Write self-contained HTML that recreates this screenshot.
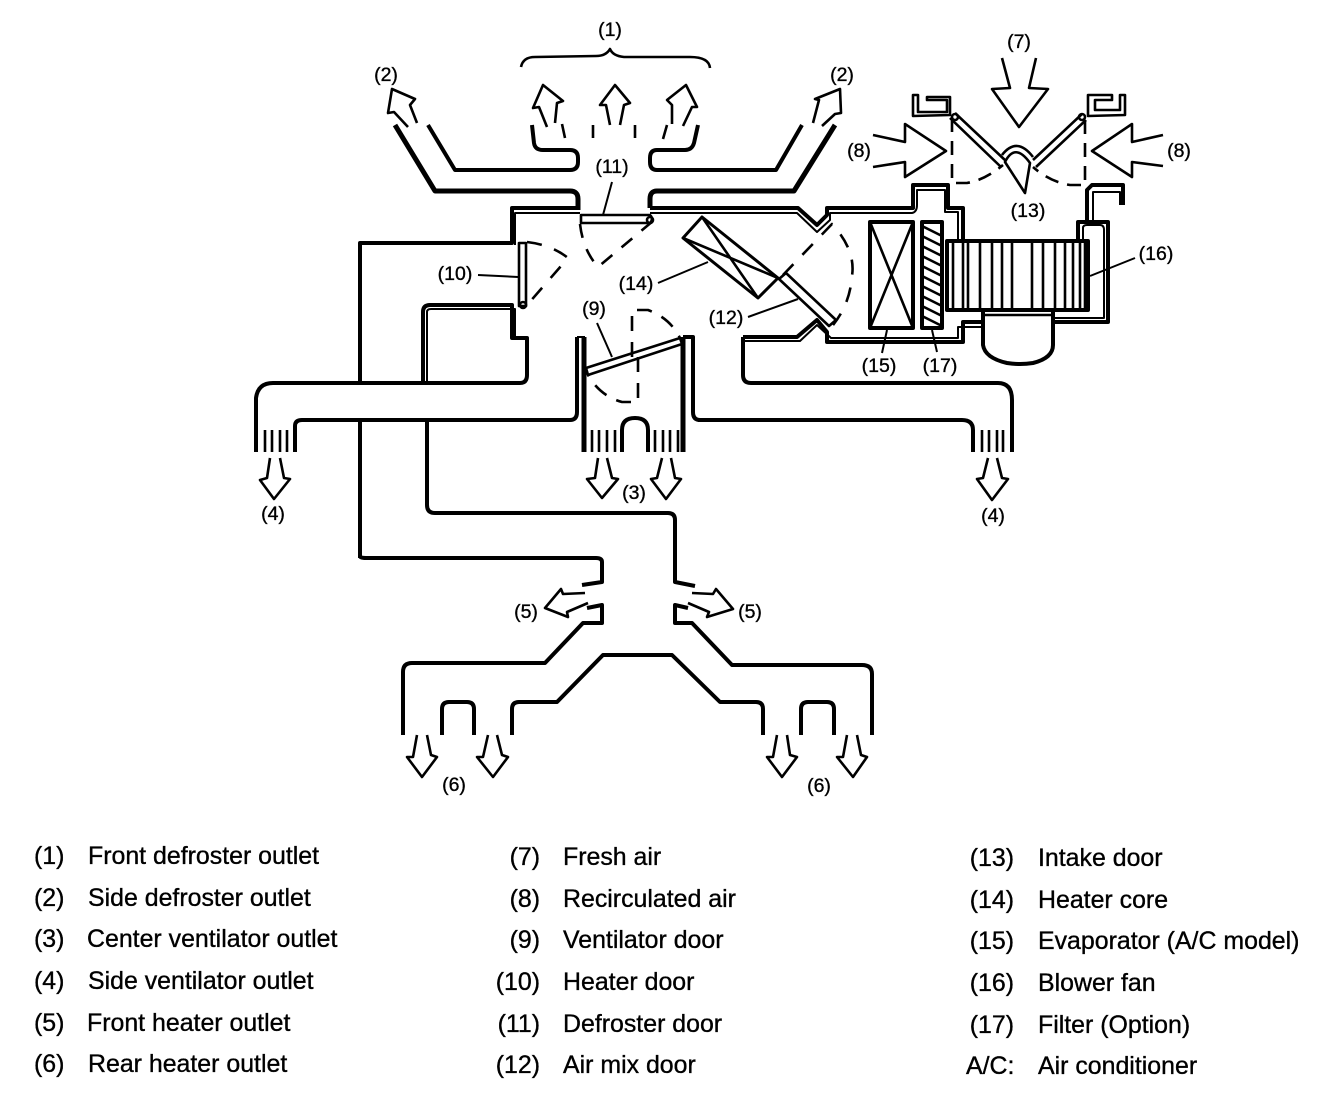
<!DOCTYPE html>
<html><head><meta charset="utf-8"><style>
html,body{margin:0;padding:0;background:#fff}
svg{display:block}
path,line,polyline,rect,circle{fill:none;stroke:#000;stroke-linejoin:round}
.t{stroke-width:4}.h{stroke-width:5}.m{stroke-width:2.6}.n{stroke-width:2}
.d{stroke-width:2.6;stroke-dasharray:15 13}
text{font-family:"Liberation Sans",Arial,sans-serif;fill:#000;stroke:#000;stroke-width:.35px}
.l{font-size:19.5px;text-anchor:middle}
.g{font-size:24.9px}
.e{text-anchor:end}
</style></head><body>
<svg width="1328" height="1114" viewBox="0 0 1328 1114" xmlns="http://www.w3.org/2000/svg">
<rect x="0" y="0" width="1328" height="1114" style="fill:#fff;stroke:none"/>

<!-- brace -->
<path class="m" d="M521,67Q523,57 535,57L596,56Q606,56 610,49Q613,56 624,57L690,57Q709,57 710,68"/>

<!-- defrost ducts -->
<path class="h" d="M395,125L435,191H570Q578,191 578,199V210"/>
<path class="t" d="M428,125L455,170H570Q578,170 578,162V158Q578,150 570,150H543Q535,150 534,143L532,125"/>
<path class="t" d="M698,125L694,143Q692,150 685,150H657Q650,150 650,158V162Q650,170 657,170H776L802,125"/>
<path class="h" d="M835,125L794,191H657Q650,191 650,199V208"/>
<!-- top wall -->
<path class="t" d="M360,383V243H512V208H577"/>
<path class="t" d="M360,420V558"/>
<path class="n" d="M515,245V213H580"/>
<path class="t" d="M650,208H798L817,225L827,215V208H913V185H948V208H963V241"/>
<path class="n" d="M650,213H797L817,232L830,220V213H912Q917,212 917,205V190H945V212H958V241"/>

<!-- housing bottom -->
<path class="t" d="M743,337H797L817,320L827,332V342H963V322H983"/>
<path class="n" d="M743,341H800L817,325L831,338H958V327H983"/>
<path class="t" d="M743,337V375Q743,383 751,383H998Q1012,383 1012,400V452"/>
<path class="t" d="M698,420H962Q973,420 973,430V452"/>
<path class="h" d="M683,337V452"/>
<path class="t" d="M683,337H693V412Q693,420 700,420"/>

<!-- right housing -->
<path class="t" d="M1078,241V222H1108V322H1053"/>
<path class="n" d="M1083,241V228Q1083,225 1087,225H1100Q1104,225 1104,230V318H1053"/>
<path class="t" d="M1087,222V190L1092,185H1123V205"/>
<path class="n" d="M1093,222V192H1120V205"/>

<!-- blower -->
<rect class="t" x="947" y="241" width="141" height="69"/>
<path class="m" d="M953,241V310M963,241V310M968,241V310M980,241V310M992,241V310M1002,241V310M1012,241V310M1032,241V310M1043,241V310M1055,241V310M1065,241V310M1073,241V310M1080,241V310M1085,241V310"/>
<path class="t" d="M983,310V345Q985,358 1007,363Q1020,365 1033,363Q1053,358 1053,345V310"/>
<path class="m" d="M983,315H1053"/>

<!-- evaporator & filter -->
<rect class="t" x="870" y="222" width="43" height="106"/>
<path class="m" d="M870,222L913,328M913,222L870,328"/>
<rect class="t" x="922" y="222" width="20" height="106"/>
<path class="m" d="M922,226L942,236M922,236L942,246M922,246L942,256M922,256L942,266M922,266L942,276M922,276L942,286M922,286L942,296M922,296L942,306M922,306L942,316M922,316L942,326"/>

<!-- heater core -->
<path class="t" d="M702,217L683,238L758,298L778,278Z" style="stroke-width:3"/>
<path class="m" d="M702,217L758,298M683,238L778,278"/>

<!-- air mix door -->
<path class="m" d="M779,279L829,326L836,320L786,273Z"/>
<path class="d" d="M783,275L832,224Q856,250 852,276Q850,304 833,325"/>

<!-- defroster door -->
<path class="m" d="M581,215H650Q654,219 650,223H581Z"/>
<circle class="m" cx="650" cy="220" r="3"/>
<path class="d" d="M580,224Q583,250 598,267L653,221" style="stroke-dasharray:14 12"/>
<line class="n" x1="612" y1="182" x2="603" y2="215"/>

<!-- heater door 10 -->
<path class="m" d="M519,243H526V306H519Z"/>
<circle class="m" cx="523" cy="305" r="3"/>
<path class="d" d="M527,242Q552,245 568,258L528,304"/>
<line class="n" x1="478" y1="275" x2="518" y2="277"/>

<!-- left box -->
<path class="t" d="M256,452V398Q258,383 273,383H520Q527,383 527,375V338H512V305H430Q423,305 423,312V383"/>
<path class="n" d="M427,383V312Q427,309 431,309H515V338"/>
<path class="t" d="M295,452V426Q295,420 302,420H570Q577,420 577,412V337"/>
<path class="h" d="M584,337V452"/>
<path class="n" d="M577,337H585"/>

<!-- vent door 9 -->
<path class="m" d="M586,368L680,338L682,344L588,375Z"/>
<path class="d" d="M632,357V310H648Q670,318 680,338" style="stroke-dasharray:15 11"/>
<path class="d" d="M638,357V402H622Q600,396 588,375" style="stroke-dasharray:15 11"/>
<line class="n" x1="597" y1="323" x2="612" y2="357"/>

<!-- center grill -->
<path class="t" d="M622,452V430Q622,418 635,418Q648,418 648,430V452"/>
<path class="m" d="M592,430V452M599,430V452M607,430V452M615,430V452M655,430V452M663,430V452M670,430V452M678,430V452"/>
<!-- side grills -->
<path class="m" d="M265,430V452M272,430V452M280,430V452M287,430V452M982,430V452M989,430V452M997,430V452M1003,430V452"/>

<!-- rear ducts -->
<path class="t" d="M360,556Q360,558 366,558H596Q602,558 602,562V582L582,585"/>
<path class="t" d="M427,420V505Q427,513 435,513H668Q675,513 675,520V582L695,586"/>
<path class="t" d="M587,608L602,605V623H583L545,663H412Q403,663 403,672V735"/>
<path class="t" d="M688,608L675,605V623H692L732,665H862Q872,665 872,674V735"/>
<path class="t" d="M512,735V709Q512,702 519,702H557L603,655H672L720,702H756Q763,702 763,709V735"/>
<path class="t" d="M442,735V709Q442,702 449,702H467Q474,702 474,709V735"/>
<path class="t" d="M801,735V709Q801,702 808,702H827Q834,702 834,709V735"/>

<!-- intake -->
<path class="m" d="M927,97H950V115L913,116V95H918V112H947V100H927Z"/>
<path class="m" d="M1088,95H1112V100H1095V110H1120V95H1125V115L1088,116Z"/>
<path class="m" d="M955,113L1006,161M950,118L1001,167"/>
<circle class="m" cx="955" cy="117" r="3"/>
<path class="m" d="M1082,114L1033,160M1086,120L1036,167"/>
<circle class="m" cx="1082" cy="117" r="3"/>
<path class="m" d="M1002,155Q1017,136 1033,157"/>
<path class="m" d="M1005,162Q1015,142 1030,163L1025,193Z"/>
<path class="d" d="M952,118V183H967Q985,180 1003,165" style="stroke-dasharray:14 9"/>
<path class="d" d="M1085,120V185H1070Q1050,182 1033,167" style="stroke-dasharray:14 9"/>

<!-- air arrows -->
<g class="m">
<path class="m" d="M408,127L394,112L388,113L392,89L415,99L410,105L417,123"/>
<path class="m" d="M813,123L819,100L815,99L840,89L841,113L835,114L822,126"/>
<path class="m" d="M547,127L539,107L533,108L543,85L563,101L557,103L555,123"/>
<path class="m" d="M610,125L606,105L600,105L615,85L630,103L624,105L620,125"/>
<path class="m" d="M672,124L672,105L667,100L686,85L697,107L692,107L683,126"/>
<path class="m" d="M562,124L565,138M593,125V138M635,125V138M667,125L663,139"/>
<path class="m" d="M1002,58L1010,88L992,89L1019,127L1048,89L1029,88L1036,58"/>
<path class="m" d="M873,135L905,142V124L946,151L905,177V162L873,167"/>
<path class="m" d="M1163,135L1132,142V124L1092,151L1132,177V162L1163,166"/>
<path class="m" d="M270,458L267,478L260,480L274,499L290,479L284,478L280,458"/>
<path class="m" d="M988,458L983,478L977,479L992,500L1008,479L1002,478L997,458"/>
<path class="m" d="M598,458L595,478L587,479L602,498L618,479L612,478L607,458"/>
<path class="m" d="M662,458L657,478L651,479L666,499L681,479L675,478L671,458"/>
<path class="m" d="M585,593L563,594L561,589L545,608L568,617L567,612L588,603"/>
<path class="m" d="M692,593L713,594L716,589L733,609L707,617L709,612L688,603"/>
<path class="m" d="M417,735L413,757L407,757L422,777L437,757L431,755L427,735"/>
<path class="m" d="M488,735L483,757L477,757L493,777L508,757L502,755L497,735"/>
<path class="m" d="M777,735L773,757L767,757L782,777L797,757L790,755L787,735"/>
<path class="m" d="M847,735L843,757L837,757L853,777L867,757L861,755L857,735"/>
</g>

<!-- leaders -->
<line class="n" x1="658" y1="283" x2="708" y2="262"/>
<line class="n" x1="748" y1="317" x2="798" y2="299"/>
<line class="n" x1="1090" y1="276" x2="1135" y2="258"/>
<line class="n" x1="887" y1="330" x2="882" y2="353"/>
<line class="n" x1="932" y1="330" x2="937" y2="352"/>

<!-- labels -->
<text class="l" x="610" y="36">(1)</text>
<text class="l" x="386" y="81">(2)</text>
<text class="l" x="842" y="81">(2)</text>
<text class="l" x="1019" y="48">(7)</text>
<text class="l" x="859" y="157">(8)</text>
<text class="l" x="1179" y="157">(8)</text>
<text class="l" x="612" y="173">(11)</text>
<text class="l" x="455" y="280">(10)</text>
<text class="l" x="1028" y="217">(13)</text>
<text class="l" x="636" y="290">(14)</text>
<text class="l" x="726" y="324">(12)</text>
<text class="l" x="594" y="315">(9)</text>
<text class="l" x="1156" y="260">(16)</text>
<text class="l" x="879" y="372">(15)</text>
<text class="l" x="940" y="372">(17)</text>
<text class="l" x="634" y="499">(3)</text>
<text class="l" x="273" y="520">(4)</text>
<text class="l" x="993" y="522">(4)</text>
<text class="l" x="526" y="618">(5)</text>
<text class="l" x="750" y="618">(5)</text>
<text class="l" x="454" y="791">(6)</text>
<text class="l" x="819" y="792">(6)</text>

<!-- legend -->
<g class="g">
<text x="34" y="864">(1)</text><text x="88" y="864">Front defroster outlet</text>
<text x="34" y="906">(2)</text><text x="88" y="906">Side defroster outlet</text>
<text x="34" y="947">(3)</text><text x="87" y="947">Center ventilator outlet</text>
<text x="34" y="989">(4)</text><text x="88" y="989">Side ventilator outlet</text>
<text x="34" y="1031">(5)</text><text x="87" y="1031">Front heater outlet</text>
<text x="34" y="1072">(6)</text><text x="88" y="1072">Rear heater outlet</text>

<text x="540" y="865" class="e">(7)</text><text x="563" y="865">Fresh air</text>
<text x="540" y="907" class="e">(8)</text><text x="563" y="907">Recirculated air</text>
<text x="540" y="948" class="e">(9)</text><text x="563" y="948">Ventilator door</text>
<text x="540" y="990" class="e">(10)</text><text x="563" y="990">Heater door</text>
<text x="540" y="1032" class="e">(11)</text><text x="563" y="1032">Defroster door</text>
<text x="540" y="1073" class="e">(12)</text><text x="563" y="1073">Air mix door</text>

<text x="1014" y="866" class="e">(13)</text><text x="1038" y="866">Intake door</text>
<text x="1014" y="908" class="e">(14)</text><text x="1038" y="908">Heater core</text>
<text x="1014" y="949" class="e">(15)</text><text x="1038" y="949">Evaporator (A/C model)</text>
<text x="1014" y="991" class="e">(16)</text><text x="1038" y="991">Blower fan</text>
<text x="1014" y="1033" class="e">(17)</text><text x="1038" y="1033">Filter (Option)</text>
<text x="966" y="1074">A/C:</text><text x="1038" y="1074">Air conditioner</text>
</g>
</svg>
</body></html>
